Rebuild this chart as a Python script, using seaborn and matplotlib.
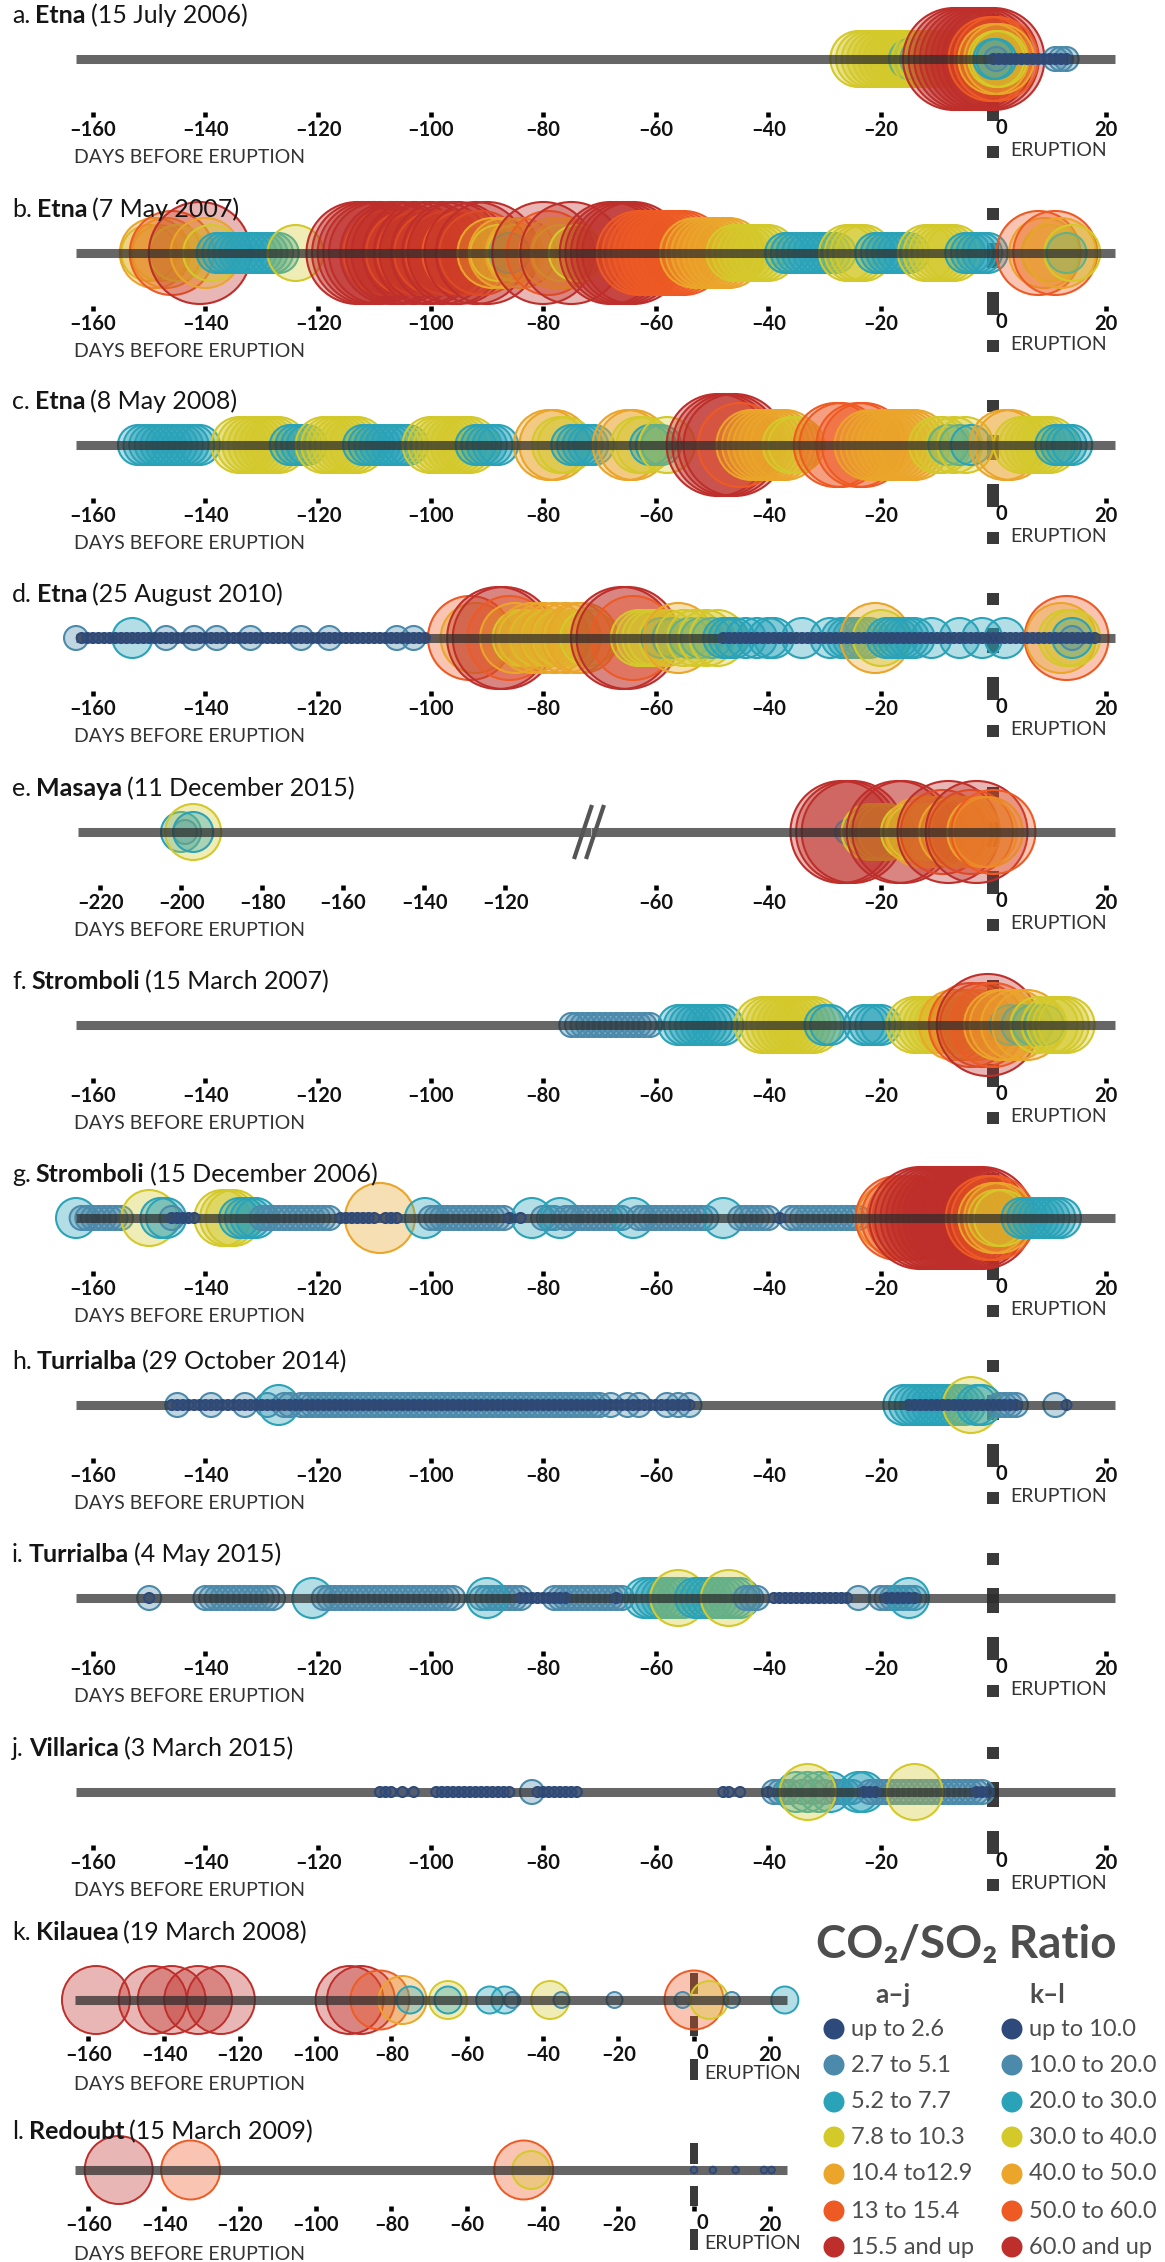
import matplotlib
matplotlib.use("Agg")
import matplotlib.pyplot as plt
import seaborn as sns
import pandas as pd

# ratio classes: 0 = lowest ... 6 = highest (same colours for both scales)
ratio_aj = ["up to 2.6", "2.7 to 5.1", "5.2 to 7.7", "7.8 to 10.3",
            "10.4 to12.9", "13 to 15.4", "15.5 and up"]
ratio_kl = ["up to 10.0", "10.0 to 20.0", "20.0 to 30.0", "30.0 to 40.0",
            "40.0 to 50.0", "50.0 to 60.0", "60.0 and up"]
class_colors = ["#2e4a7a", "#4b8aab", "#2aa3b9", "#d4c92b",
                "#eaa52a", "#ee5a24", "#be2e2a"]

titles = [
    ("a.", "Etna", "(15 July 2006)"),
    ("b.", "Etna", "(7 May 2007)"),
    ("c.", "Etna", "(8 May 2008)"),
    ("d.", "Etna", "(25 August 2010)"),
    ("e.", "Masaya", "(11 December 2015)"),
    ("f.", "Stromboli", "(15 March 2007)"),
    ("g.", "Stromboli", "(15 December 2006)"),
    ("h.", "Turrialba", "(29 October 2014)"),
    ("i.", "Turrialba", "(4 May 2015)"),
    ("j.", "Villarica", "(3 March 2015)"),
    ("k.", "Kilauea", "(19 March 2008)"),
    ("l.", "Redoubt", "(15 March 2009)"),
]

ticks_main = [-160, -140, -120, -100, -80, -60, -40, -20, 0, 20]
ticks_e_left = [-220, -200, -180, -160, -140, -120]
ticks_e_right = [-60, -40, -20, 0, 20]

# measurements: (ratio class, [days before eruption]) in drawing order
a_runs = [
    (3, [-24, -23, -22, -21, -20, -19, -18, -17, -16, -15]), (2, [-15]),
    (3, [-14, -13]), (2, [-13]), (3, [-12, -11, -10, -9, -8]),
    (6, [-7, -6, -5, -4, -3, -2, -1]),
    (6, [0]), (5, [-0.5, 0.5]), (4, [0, 1]), (3, [0.5, 1]), (2, [0, 0.5]), (1, [0.5]),
    (1, [11, 12, 13]),
    (0, [0, 1, 2, 3, 4, 5, 6, 7, 8, 9, 10, 11, 12, 13]),
]
b_runs = [
    (3, [-150]), (4, [-149]), (3, [-148]), (4, [-147]), (5, [-146]), (3, [-145]),
    (6, [-141]), (4, [-140]), (3, [-139]),
    (2, [-138, -137, -136, -135, -134, -133, -132, -131, -130, -129, -128, -127]),
    (3, [-124]),
    (6, [-113, -112, -111, -110, -109]), (5, [-108]), (6, [-107, -106, -105]), (5, [-104]),
    (6, [-103]), (5, [-102]), (6, [-101, -100]), (5, [-99]), (6, [-98]), (5, [-97]),
    (6, [-96, -95]), (5, [-94]), (6, [-92]), (5, [-91]), (6, [-90]),
    (4, [-89]), (3, [-88]), (4, [-87]), (2, [-86]), (3, [-85]), (4, [-84]),
    (6, [-80]), (5, [-79]), (4, [-78]), (3, [-77]), (4, [-76]), (6, [-75]), (3, [-74]),
    (6, [-68, -67, -66, -65, -64]),
    (5, [-63, -62, -61, -60, -59, -58, -57, -56, -55]),
    (4, [-53, -52, -51, -50, -49, -48, -47]),
    (3, [-46, -45, -44, -43, -42, -41, -40]),
    (2, [-37, -36, -35, -34, -33, -32, -31, -30, -29, -28]),
    (3, [-26, -25, -24, -23]),
    (2, [-21, -20, -19, -18, -17, -16, -15]),
    (3, [-12, -11, -10, -9, -8, -7]),
    (2, [-5, -4, -3, -2, -1]),
    (5, [8]), (4, [9]), (3, [10]), (5, [11]), (4, [12]), (2, [13]), (3, [14]),
]
c_runs = [
    (2, [-152, -151, -150, -149, -148, -147, -146, -145, -144, -143, -142, -141]),
    (3, [-134, -133, -132, -131, -130, -129, -128, -127]),
    (2, [-125, -124, -123, -122]),
    (3, [-119, -118, -117, -116, -115, -114, -113]),
    (2, [-112, -111, -110, -109, -108, -107, -106, -105, -104]),
    (3, [-100, -99, -98, -97, -96, -95, -94, -93]),
    (2, [-92, -91, -90, -89, -88]),
    (4, [-79, -78]), (3, [-77, -76]), (2, [-75, -74, -73, -72, -71]),
    (4, [-65, -64]), (3, [-63, -62]), (2, [-61, -60, -59]), (3, [-58]),
    (6, [-49, -48, -47, -46]), (5, [-45]),
    (4, [-43, -42, -41, -40, -39, -38, -37]),
    (3, [-36, -35]),
    (5, [-28, -27, -24, -23]),
    (4, [-22, -21, -20, -19, -18, -17, -16, -15, -14]),
    (3, [-10, -9]), (2, [-8]), (3, [-7]), (2, [-6]), (3, [-5]), (2, [-4]),
    (4, [2, 3]),
    (3, [5, 6, 7, 8, 9, 10]),
    (2, [11, 12, 13, 14]),
]
d_runs = [
    (0, [-162, -161, -160, -159, -158, -157, -156, -155, -154, -153, -152, -151,
         -150, -149, -148, -147, -146, -145, -144, -143, -142, -141, -140, -139,
         -138, -137, -136, -135, -134, -133, -132, -131, -130, -129, -128, -127,
         -126, -125, -124, -123, -122, -121, -120, -119, -118, -117, -116, -115,
         -114, -113, -112, -111, -110, -109, -108, -107, -106, -105, -104, -103,
         -102, -101]),
    (1, [-163]), (2, [-153]), (1, [-147, -142, -138, -132, -123, -118, -106, -103]),
    (5, [-93]), (4, [-92]), (6, [-88, -87]), (5, [-86]), (4, [-85]), (3, [-84, -83]),
    (4, [-82]), (3, [-81]), (4, [-80]), (3, [-79]), (4, [-78]), (3, [-77]), (4, [-76]),
    (3, [-75]), (4, [-74, -73]), (3, [-72]),
    (6, [-66, -65]), (5, [-64]), (3, [-63, -62, -61, -60]), (2, [-59]), (3, [-58]),
    (2, [-57]), (4, [-56]), (3, [-55]), (2, [-54]), (3, [-53]), (2, [-52]), (3, [-51]),
    (2, [-50]), (3, [-49]),
    (2, [-48, -47, -46, -44, -42, -40, -39, -34, -29]),
    (2, [-27, -26, -25, -24, -23, -22]), (4, [-21]), (3, [-20]),
    (2, [-19, -18, -17, -16, -15, -14, -11, -6, -2, 2]),
    (5, [13]), (4, [12]), (3, [13, 14]), (2, [14]), (1, [14]),
    (0, [-48, -47, -46, -45, -44, -43, -42, -41, -40, -39, -38, -37, -36, -35,
         -34, -33, -32, -31, -30, -29, -28, -27, -26, -25, -24, -23, -22, -21,
         -20, -19, -18, -17, -16, -15, -14, -13, -12, -11, -10, -9, -8, -7, -6,
         -5, -4, -3, -2, -1, 0, 1, 2, 3, 4, 5, 6, 7, 8, 9, 10, 11, 12, 13, 14,
         15, 16, 17, 18]),
]
e_left_runs = [(2, [-200]), (1, [-199]), (3, [-197]), (2, [-197])]
e_right_runs = [
    (6, [-27, -26]), (1, [-26]), (6, [-25]), (3, [-22, -21, -20, -19]),
    (6, [-17, -16]), (3, [-15, -14]), (4, [-13]), (3, [-12]), (4, [-11, -10]),
    (5, [-9]), (6, [-8]), (4, [-7, -6, -5]), (5, [-4]), (6, [-3]), (4, [-2, -1]), (5, [0]),
]
f_runs = [
    (1, [-75, -74, -73, -72, -71, -70, -69, -68, -67, -66, -65, -64, -63, -62, -61]),
    (2, [-56, -55, -54, -53, -52, -51, -50, -49, -48]),
    (3, [-41, -40, -39, -38, -37, -36, -35, -34, -33, -32]),
    (2, [-30, -29]),
    (2, [-23, -22, -21, -20]),
    (3, [-14, -13, -12, -11, -10, -9, -8]),
    (4, [-7]), (3, [-6]), (4, [-5]), (5, [-4]), (4, [-3]), (5, [-2]), (6, [-1]), (5, [0]),
    (4, [1, 2]), (2, [3]), (4, [4]), (2, [5]), (4, [6]), (2, [7]), (3, [8]), (2, [9]),
    (3, [10, 11, 12, 13]),
]
g_runs = [
    (2, [-163]), (1, [-162, -161, -160, -159, -158, -157, -156, -155]),
    (3, [-150]), (2, [-148, -147]), (1, [-146]),
    (0, [-146, -145, -144, -143, -142]),
    (3, [-137, -136, -135]), (2, [-134, -133, -132, -131]),
    (1, [-130, -129, -128, -127, -126, -125, -124, -123, -122, -121, -120, -119, -118]),
    (0, [-116, -115, -114, -113, -112, -111, -110, -108, -107, -106]),
    (4, [-109]), (2, [-101]),
    (1, [-100, -99, -98, -97, -96, -95, -94, -93, -92, -91, -90, -89, -88, -87]),
    (0, [-86, -84]), (2, [-82]), (1, [-80, -79, -78]), (2, [-77]),
    (1, [-76, -75, -74, -73, -72, -71, -70, -69, -68, -67, -66]), (2, [-64]),
    (1, [-63, -62, -61, -60, -59, -58, -57, -56, -55, -54, -53, -52, -51]), (2, [-48]),
    (1, [-45, -44, -43, -42, -41, -40]), (0, [-38]),
    (1, [-36, -35, -34, -33, -32, -31, -30, -29, -28, -27, -26, -25, -24]),
    (4, [-18]), (5, [-17, -16, -15, -14]),
    (6, [-13, -12, -11, -10, -9, -8, -7, -6, -5, -4, -3, -2]),
    (5, [-1, 0]), (4, [0]), (3, [0.5]), (4, [1]), (3, [1.5]),
    (2, [5, 6, 7, 8, 9, 10, 11, 12]),
]
h_runs = [
    (1, [-145, -139, -133, -129]), (2, [-127]), (1, [-126, -125]),
    (1, [-123, -122, -121, -120, -119, -118, -117, -116, -115, -114, -113, -112,
         -111, -110, -109, -108, -107, -106, -105, -104, -103, -102, -101, -100,
         -99, -98, -97, -96, -95, -94, -93, -92, -91, -90, -89, -88, -87, -86,
         -85, -84, -83, -82, -81, -80, -79, -78, -77, -76, -75, -74, -73, -72,
         -71, -70]),
    (1, [-68, -65, -63, -58, -56, -54]),
    (2, [-16, -15, -14, -13, -12, -11, -10, -9, -8, -7, -6, -5]), (3, [-4]),
    (2, [-3, -2]), (1, [1, 2, 3, 4, 11]),
    (0, [-146, -145, -144, -143, -142, -141, -140, -139, -138, -137, -136, -135,
         -134, -133, -132, -131, -130, -129, -128, -127, -126, -125, -124, -123,
         -122, -121, -120, -119, -118, -117, -116, -115, -114, -113, -112, -111,
         -110, -109, -108, -107, -106, -105, -104, -103, -102, -101, -100, -99,
         -98, -97, -96, -95, -94, -93, -92, -91, -90, -89, -88, -87, -86, -85,
         -84, -83, -82, -81, -80, -79, -78, -77, -76, -75, -74, -73, -72, -71,
         -70, -69, -68, -67, -66, -65, -64, -63, -62, -61, -60, -59, -58, -57,
         -56, -55, -54]),
    (0, [-15, -14, -13, -12, -11, -10, -9, -8, -7, -6, -5, -4, -3, -2, -1, 0,
         1, 2, 3, 4, 13]),
]
i_runs = [
    (1, [-150]),
    (1, [-140, -139, -138, -137, -136, -135, -134, -133, -132, -131, -130, -129, -128]),
    (2, [-121]),
    (1, [-119, -118, -117, -116, -115, -114, -113, -112, -111, -110, -109, -108,
         -107, -106, -105, -104, -103, -102, -101, -100, -99, -98, -97, -96]),
    (1, [-91, -90, -89, -88, -87, -86, -85, -84]), (2, [-90]),
    (1, [-78, -77, -76, -75, -74, -73, -72, -71, -70, -69, -68, -67, -66]),
    (2, [-62, -61, -60, -59, -58, -57, -56, -55]), (3, [-56]),
    (2, [-53, -52, -51, -50, -49, -48, -47, -46, -45]), (3, [-47]),
    (1, [-44, -43, -42]),
    (1, [-24]), (1, [-20, -19, -18, -17, -16, -15, -14]), (2, [-15]),
    (0, [-150, -84, -83, -82, -81, -80, -79, -78, -77, -76, -67,
         -39, -38, -37, -36, -35, -34, -33, -32, -31, -30, -29, -28, -27, -26,
         -19, -18, -17, -16, -15, -14]),
]
j_runs = [
    (1, [-82]),
    (1, [-39, -38, -37, -36]), (2, [-35]), (1, [-34]), (2, [-33]), (1, [-32]),
    (2, [-31]), (1, [-30]), (2, [-29]), (1, [-28, -27, -26, -25]), (2, [-24, -23]),
    (1, [-22, -21, -20, -19, -18, -17, -16, -15, -14, -13, -12, -11, -10, -9, -8,
         -7, -6, -5, -4, -3, -2]),
    (3, [-33, -14]),
    (0, [-109, -108, -107, -105, -103,
         -99, -98, -97, -96, -95, -94, -93, -92, -91, -90, -89, -88, -87, -86,
         -81, -80, -79, -78, -77, -76, -75, -74,
         -48, -47, -45, -40, -23, -22, -21, -3, -2, -1]),
]
k_runs = [
    (6, [-158, -143, -138, -131, -125, -91, -88]), (5, [-83]), (4, [-77]), (2, [-75]),
    (3, [-65]), (2, [-65, -54, -50]), (1, [-48]), (3, [-38]), (1, [-35, -21]),
    (5, [0]), (1, [-3]), (3, [4]), (1, [10]), (2, [24]),
]
l_runs = [(6, [-152]), (5, [-133, -45]), (3, [-43]), (0, [0, 5, 11, 18.5, 20.5])]

# ---------------------------------------------------------------------------
W, H = 1165, 2262
sns.set_theme(style="white")
plt.rcParams["font.family"] = ["Lato", "DejaVu Sans"]

fig = plt.figure(figsize=(W / 100, H / 100), dpi=100)
renderer = fig.canvas.get_renderer()

# overlay axes in pixel units for titles, labels and the legend
canvas = fig.add_axes([0, 0, 1, 1])
canvas.set_xlim(0, W)
canvas.set_ylim(H, 0)
canvas.axis("off")
canvas.patch.set_alpha(0)
canvas.set_zorder(10)

radii_aj = [5, 12, 20, 28, 35, 42, 51]
radii_kl = [3.3, 8, 13.5, 19, 24, 29.5, 34]

PPD, ZERO = 5.628, 993.4          # panels a-j: pixels per day, x pixel of day 0
PPD_KL, ZERO_KL = 3.785, 694.0    # panels k-l
TICK_FS = 14.5


def panel_axes(L, px_lo, px_hi, zero_px, ppd, below):
    ax = fig.add_axes([px_lo / W, 1 - (L + below) / H,
                       (px_hi - px_lo) / W, (below + 110) / H])
    ax.set_xlim((px_lo - zero_px) / ppd, (px_hi - zero_px) / ppd)
    ax.set_ylim(-below, 110)
    ax.patch.set_alpha(0)
    sns.despine(ax=ax, left=True, bottom=True)
    ax.set_yticks([])
    return ax


def draw_runs(ax, runs, labels, radii, lw):
    days, codes = [], []
    for code, ds in runs:
        days += ds
        codes += [code] * len(ds)
    df = pd.DataFrame({"day": days, "code": codes})
    df["y"] = 0.0
    df["ratio"] = [labels[c] for c in codes]
    pal = dict(zip(labels, class_colors))
    sizes = {lab: (1.44 * r) ** 2 for lab, r in zip(labels, radii)}
    for part, z in ((df[df.code > 0], 3), (df[df.code == 0], 5)):
        if part.empty:
            continue
        sns.scatterplot(data=part, x="day", y="y", hue="ratio", size="ratio",
                        palette=pal, sizes=sizes, legend=False, ax=ax,
                        linewidth=lw, clip_on=False, zorder=z)
        pts = ax.collections[-1]
        fc = pts.get_facecolors().copy()
        pts.set_edgecolors(fc.copy())
        fc[:, 3] = 0.35
        pts.set_facecolors(fc)
    ax.set_xlabel("")
    ax.set_ylabel("")


def base_line(ax, px0, px1, zero_px, ppd):
    ax.plot([(px0 - zero_px) / ppd, (px1 - zero_px) / ppd], [0, 0], color="#2b2b2b",
            alpha=0.72, lw=6.5, solid_capstyle="butt", zorder=4)


def zero_dashes(ax, segs, width):
    for top, bot in segs:
        ax.plot([0, 0], [-top, -bot], color="#3a3a3a", lw=width * 0.72,
                solid_capstyle="butt", clip_on=False, zorder=2.6)


def set_ticks(ax, ticks, pad):
    # the "0" label sits just right of the eruption line, drawn separately
    ax.set_xticks(ticks)
    ax.set_xticklabels([("–%d" % -t) if t < 0 else ("" if t == 0 else str(t))
                        for t in ticks],
                       fontsize=TICK_FS, fontweight="bold", color="#111111")
    ax.tick_params(axis="x", bottom=True, length=3.3, width=3.3, color="black",
                   direction="out", pad=pad)


def zero_label(x, y):
    canvas.text(x, y, "0", fontsize=TICK_FS, fontweight="bold", color="#111111",
                ha="center", va="baseline")


def title(L_base, parts):
    x = 12
    for txt, wt in zip(parts, ["normal", "bold", "normal"]):
        t = canvas.text(x, L_base, txt, fontsize=18, fontweight=wt,
                        va="baseline", ha="left", color="#151515")
        x += t.get_window_extent(renderer).width + 5


def axis_words(L, days_dy, erup_x, erup_dy):
    canvas.text(74, L + days_dy, "DAYS BEFORE ERUPTION", fontsize=14,
                color="#333333", va="baseline")
    canvas.text(erup_x, L + erup_dy, "ERUPTION", fontsize=14,
                color="#333333", va="baseline")


dash_aj = [(-45, -33), (-10, 15), (39, 62), (87, 99)]
dash_kl = [(-27, -6), (16, 36), (59, 80)]

line_y = [59, 253, 445, 638, 832, 1025, 1218, 1405, 1598, 1792, 2000, 2170]
runs_aj = [a_runs, b_runs, c_runs, d_runs, None, f_runs, g_runs, h_runs, i_runs, j_runs]

for idx, L in enumerate(line_y[:10]):
    if idx == 4:
        # Masaya: broken axis, compressed left part
        ppd_l, zero_l = 4.05, 100 + 4.05 * 220
        axl = panel_axes(L, 0, 591, zero_l, ppd_l, 53)
        draw_runs(axl, e_left_runs, ratio_aj, radii_aj, 1.5)
        base_line(axl, 78, 591, zero_l, ppd_l)
        set_ticks(axl, ticks_e_left, 2.5)
        axr = panel_axes(L, 591, W, ZERO, PPD, 53)
        draw_runs(axr, e_right_runs, ratio_aj, radii_aj, 1.5)
        base_line(axr, 591, 1115, ZERO, PPD)
        zero_dashes(axr, dash_aj, 12)
        set_ticks(axr, ticks_e_right, 2.5)
        for dx in (0, 12):
            canvas.plot([574 + dx, 592 + dx], [L + 27, L - 27], color="#555555",
                        lw=3, solid_capstyle="butt")
    else:
        ax = panel_axes(L, 0, W, ZERO, PPD, 53)
        draw_runs(ax, runs_aj[idx], ratio_aj, radii_aj, 1.5)
        base_line(ax, 76, 1115, ZERO, PPD)
        zero_dashes(ax, dash_aj, 12)
        set_ticks(ax, ticks_main, 2.5)
    zero_label(1001, L + 75)
    title(L - 36, titles[idx])
    axis_words(L, 104, 1010, 97)

for idx, runs, tb in ((10, k_runs, -60), (11, l_runs, -31)):
    L = line_y[idx]
    ax = panel_axes(L, 0, W, ZERO_KL, PPD_KL, 36)
    draw_runs(ax, runs, ratio_kl, radii_kl, 1.4)
    base_line(ax, 75, 787, ZERO_KL, PPD_KL)
    zero_dashes(ax, dash_kl, 8)
    set_ticks(ax, ticks_main, 3.5)
    zero_label(702, L + 59)
    title(L + tb, titles[idx])
    axis_words(L, 90, 704, 79)

# legend
canvas.text(816, 1958, "CO₂/SO₂ Ratio", fontsize=33, fontweight="bold",
            color="#4d4d4d", va="baseline")
canvas.text(893, 2003, "a–j", fontsize=19, fontweight="bold", color="#4d4d4d",
            ha="center", va="baseline")
canvas.text(1047, 2003, "k–l", fontsize=19, fontweight="bold", color="#4d4d4d",
            ha="center", va="baseline")
row_y = [2029, 2065, 2102, 2137, 2174, 2211, 2247]
for col_x, labels in ((834, ratio_aj), (1012, ratio_kl)):
    canvas.scatter([col_x] * 7, row_y, s=(21 * 0.72) ** 2, c=class_colors,
                   edgecolors="none", zorder=3)
    for y, lab in zip(row_y, labels):
        canvas.text(col_x + 17, y, lab, fontsize=17, color="#4d4d4d", va="center")

fig.savefig("out.png", dpi=100)
